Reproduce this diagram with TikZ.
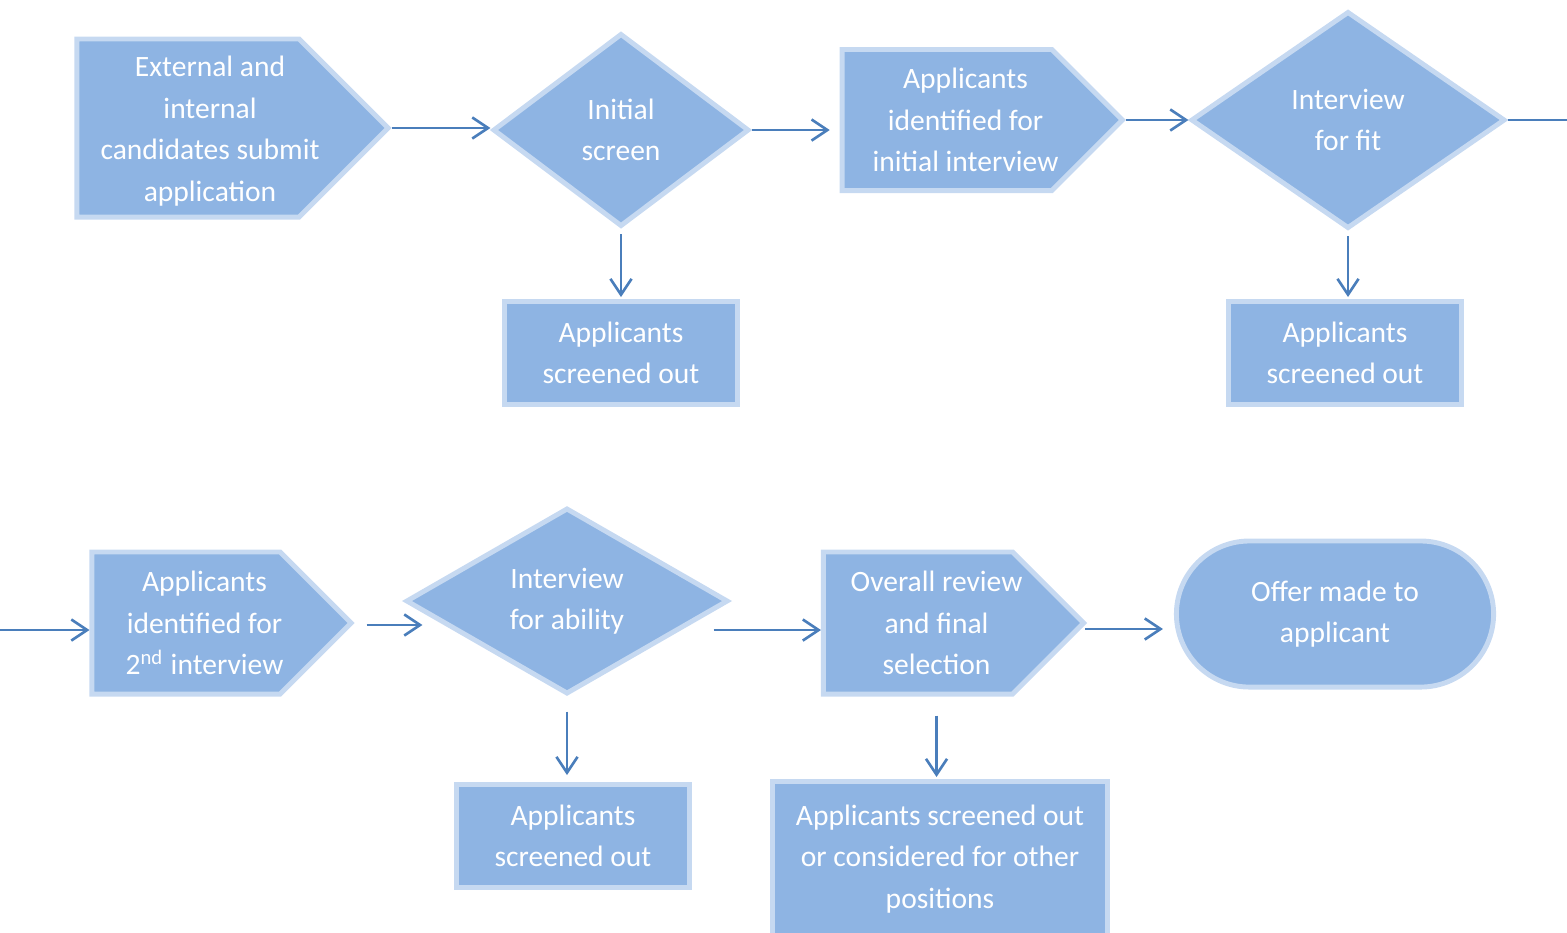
\documentclass[tikz,border=0pt]{standalone}
\usepackage{fontspec}
\setmainfont{Carlito}
\usepackage{tikz}
\usetikzlibrary{positioning, shapes.geometric, shapes.symbols, shapes.misc}
\usetikzlibrary{arrows.meta}

\definecolor{boxfill}{RGB}{142,180,227}
\definecolor{boxline}{RGB}{198,217,241}
\definecolor{arrowblue}{RGB}{74,126,187}

\begin{document}
\begin{tikzpicture}[x=0.01cm, y=-0.01cm,
    every node/.style={text=white, font=\fontsize{8.4}{11.8}\selectfont, align=center, inner sep=0pt},
    base/.style={draw=boxline, fill=boxfill, line width=1.4pt},
    stepbox/.style={base, rectangle, minimum width=2.33cm, minimum height=1.03cm},
    pentbox/.style={base, signal, signal to=east, signal pointer angle=90},
    decision/.style={base, diamond},
    endbox/.style={base, rounded rectangle},
    flow/.style={draw=arrowblue, line width=0.75pt, -{Straight Barb[length=4.5pt,width=6pt]}}]
        \useasboundingbox (0,0) rectangle (1567,932);

        % Define nodes, first row
        \node[pentbox, minimum width=3.11cm, minimum height=1.78cm,
            label={[xshift=0.22cm, yshift=-0.03cm]center:{External and\\internal\\candidates submit\\application}}] (p1) at (188,128) {};
        \node[decision, minimum width=2.56cm, minimum height=1.93cm] (d1) at (621,130) {Initial\\screen};
        \node[pentbox, minimum width=2.80cm, minimum height=1.41cm,
            label={[xshift=0.185cm]center:{Applicants\\identified for\\initial interview}}] (p2) at (947,120) {};
        \node[decision, minimum width=3.14cm, minimum height=2.17cm] (d2) at (1348,120) {Interview\\for fit};
        \node[stepbox] (r1) at (621,353) {Applicants\\screened out};
        \node[stepbox] (r2) at (1345,353) {Applicants\\screened out};

        % Define nodes, second row
        \node[pentbox, minimum width=2.59cm, minimum height=1.42cm,
            label={[xshift=0.185cm]center:{Applicants\\identified for\\2\textsuperscript{nd} interview}}] (p3) at (186,623) {};
        \node[decision, minimum width=3.22cm, minimum height=1.86cm] (d3) at (567,601) {Interview\\for ability};
        \node[pentbox, minimum width=2.60cm, minimum height=1.42cm,
            label={[xshift=0.185cm]center:{Overall review\\and final\\selection}}] (p4) at (918,623) {};
        \node[endbox, minimum width=3.17cm, minimum height=1.46cm] (s1) at (1335,614) {Offer made to\\applicant};
        \node[stepbox] (r3) at (573,836) {Applicants\\screened out};
        \node[stepbox, minimum width=3.35cm, minimum height=1.55cm] (r4) at (940,859) {Applicants screened out\\or considered for other\\positions};

        \coordinate (wrapA) at (1567,120);
        \coordinate (wrapB) at (0,630);

        % Draw edges
        \draw[flow] (p1.east) -- (p1.east -| d1.west);
        \draw[flow, shorten >=0.1cm] (d1.east) -- (d1.east -| p2.west);
        \draw[flow] (p2.east) -- (d2.west);
        \draw[flow, -] (d2.east) -- (wrapA);
        \draw[flow, shorten <=0.05cm, shorten >=0.02cm] (d1.south) -- (d1.south |- r1.north);
        \draw[flow, shorten <=0.05cm, shorten >=0.02cm] (d2.south) -- (d2.south |- r2.north);

        \draw[flow] (wrapB) -- (wrapB -| p3.west);
        \draw[flow] ([shift={(12,2)}]p3.east) -- ([shift={(19,24)}]d3.west);
        \draw[flow] ([shift={(-17,29)}]d3.east) -- ([shift={(0,7)}]p4.west);
        \draw[flow, shorten >=0.11cm] ([shift={(-2,6)}]p4.east) -- ([shift={(0,6)}]p4.east -| s1.west);
        \draw[flow, shorten <=0.15cm, shorten >=0.07cm] (d3.south) -- (d3.south |- r3.north);
        \draw[flow, shorten <=0.19cm, shorten >=0.02cm] ([xshift=0.185cm]p4.south) -- ([xshift=0.185cm]p4.south |- r4.north);
    \end{tikzpicture}
\end{document}
